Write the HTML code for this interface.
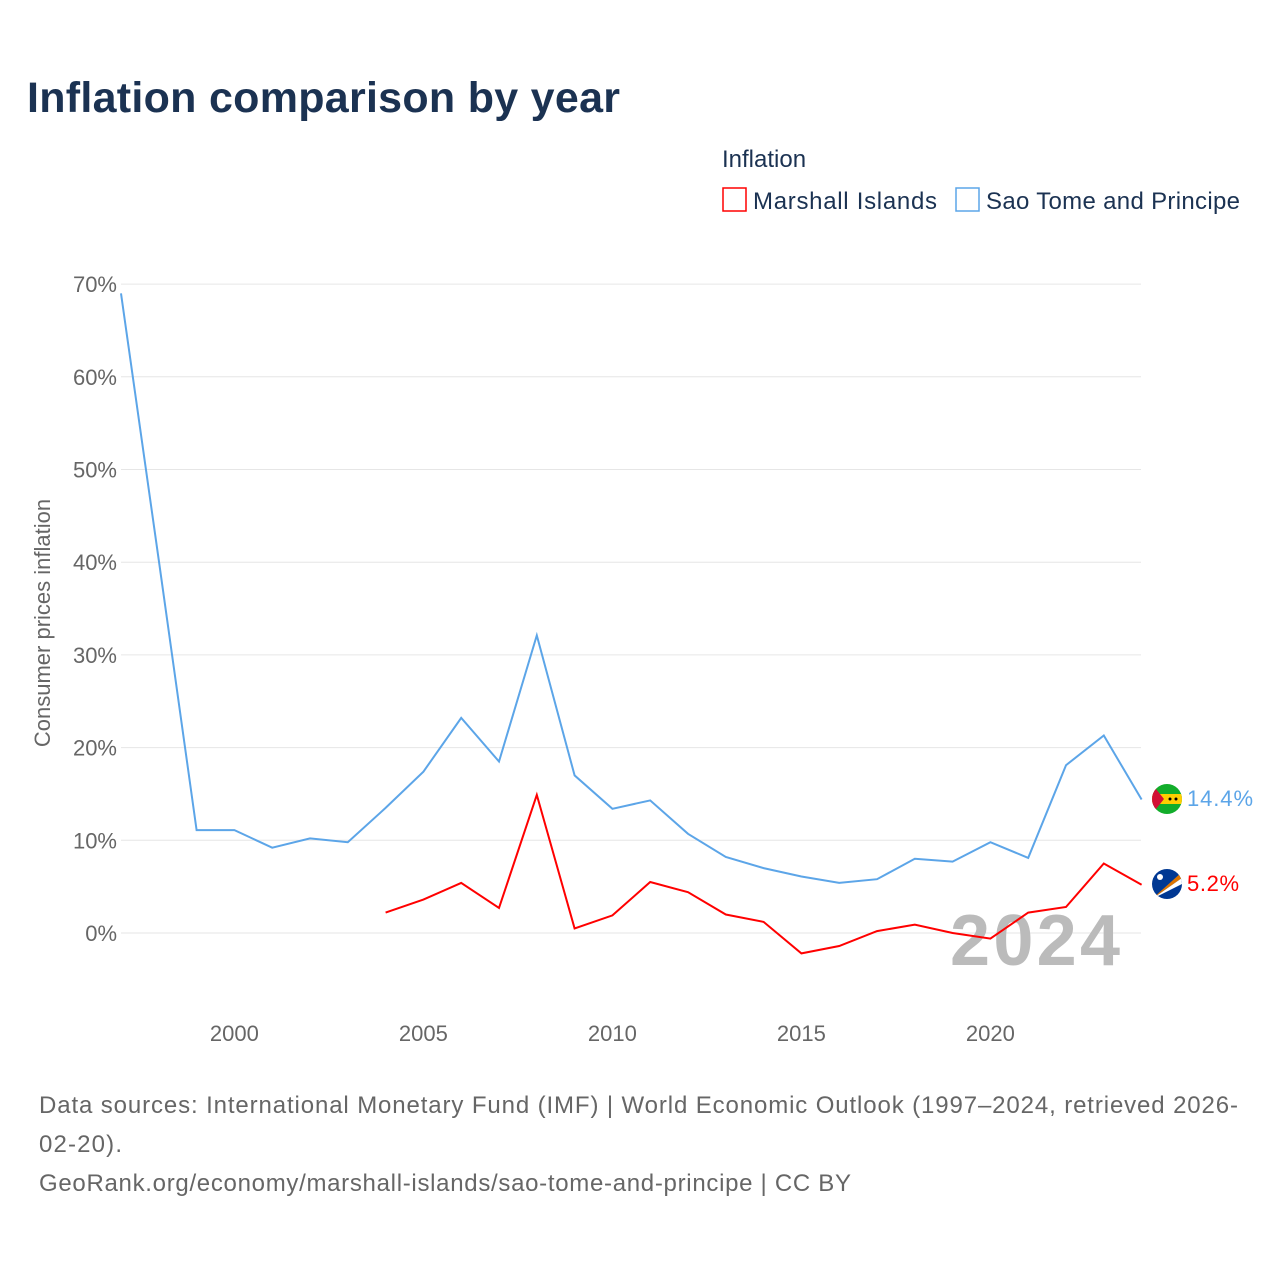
<!DOCTYPE html>
<html><head><meta charset="utf-8"><style>
body{margin:0;background:#fff;font-family:"Liberation Sans",sans-serif;}
svg text{font-family:"Liberation Sans",sans-serif;}
</style></head><body>
<svg id="chart" width="1280" height="1280" xmlns="http://www.w3.org/2000/svg">
<rect width="1280" height="1280" fill="#fff"/>
<text x="27" y="112" font-size="43" font-weight="bold" fill="#1b3252" textLength="593">Inflation comparison by year</text>
<text x="722" y="167" font-size="24" fill="#1b3252">Inflation</text>
<g><rect x="723" y="188" width="23" height="23" fill="none" stroke="#ff0000" stroke-width="1.5"/><text x="753" y="209" font-size="24" fill="#1b3252" textLength="184">Marshall Islands</text></g>
<g><rect x="956" y="188" width="23" height="23" fill="none" stroke="#5ca5e8" stroke-width="1.5"/><text x="986" y="209" font-size="24" fill="#1b3252" textLength="254">Sao Tome and Principe</text></g>
<text transform="translate(50,623) rotate(-90)" text-anchor="middle" font-size="22" fill="#666">Consumer prices inflation</text>
<g id="grid"></g><g id="xt"></g>
<text x="950" y="965" font-size="72" font-weight="bold" fill="#bbb" textLength="170">2024</text>
<g id="lines"></g>
<g><clipPath id="c1"><circle cx="1167" cy="799" r="15"/></clipPath><g clip-path="url(#c1)"><rect x="1152" y="784" width="30" height="30" fill="#12ad2b"/><rect x="1152" y="794" width="30" height="10" fill="#ffce00"/><polygon points="1152,784 1164,799 1152,814" fill="#d21034"/><circle cx="1170" cy="799" r="1.5" fill="#000"/><circle cx="1176" cy="799" r="1.5" fill="#000"/></g></g>
<g><clipPath id="c2"><circle cx="1167" cy="884" r="15"/></clipPath><g clip-path="url(#c2)"><rect x="1152" y="869" width="30" height="30" fill="#003893"/><polygon points="1152,899 1182,872 1182,878" fill="#dd7500"/><polygon points="1152,899 1182,878 1182,884" fill="#fff"/><circle cx="1160" cy="877" r="3" fill="#fff"/></g></g>
<text x="1187" y="806" font-size="22" fill="#5ca5e8" textLength="66">14.4%</text>
<text x="1187" y="891" font-size="22" fill="#ff0000" textLength="52">5.2%</text>
<text font-size="24" fill="#666"><tspan x="39" y="1113" textLength="1199">Data sources: International Monetary Fund (IMF) | World Economic Outlook (1997–2024, retrieved 2026-</tspan><tspan x="39" y="1152" textLength="83">02-20).</tspan><tspan x="39" y="1191" textLength="812">GeoRank.org/economy/marshall-islands/sao-tome-and-principe | CC BY</tspan></text>
</svg>
<script>
const years=[1997,1998,1999,2000,2001,2002,2003,2004,2005,2006,2007,2008,2009,2010,2011,2012,2013,2014,2015,2016,2017,2018,2019,2020,2021,2022,2023,2024];
const saoTome=[69.0,40.2,11.1,11.1,9.2,10.2,9.8,13.5,17.4,23.2,18.5,32.1,17.0,13.4,14.3,10.7,8.2,7.0,6.1,5.4,5.8,8.0,7.7,9.8,8.1,18.1,21.3,14.4];
const marshall=[null,null,null,null,null,null,null,2.2,3.6,5.4,2.7,14.9,0.5,1.9,5.5,4.4,2.0,1.2,-2.2,-1.4,0.2,0.9,0.0,-0.6,2.2,2.8,7.5,5.2];
const yTicks=[0,10,20,30,40,50,60,70];
const xTicks=[2000,2005,2010,2015,2020];
const NS="http://www.w3.org/2000/svg";
const X=y=>121+(y-1997)*37.8;
const Y=v=>933-v*9.27;
const grid=document.getElementById('grid');
yTicks.forEach(t=>{
 const l=document.createElementNS(NS,'line');
 l.setAttribute('x1',121);l.setAttribute('x2',1141);l.setAttribute('y1',Y(t));l.setAttribute('y2',Y(t));
 l.setAttribute('stroke','#e6e6e6');
 
 
 grid.appendChild(l);
 const tx=document.createElementNS(NS,'text');
 tx.setAttribute('x',117);tx.setAttribute('y',Y(t)+8);tx.setAttribute('text-anchor','end');
 tx.setAttribute('font-size','22');tx.setAttribute('fill','#666');tx.textContent=t+'%';
 
 
 grid.appendChild(tx);
});
const xt=document.getElementById('xt');
xTicks.forEach(t=>{
 const tx=document.createElementNS(NS,'text');
 tx.setAttribute('x',X(t));tx.setAttribute('y',1041);tx.setAttribute('text-anchor','middle');
 tx.setAttribute('font-size','22');tx.setAttribute('fill','#666');tx.textContent=t;
 
 
 xt.appendChild(tx);
});
function draw(vals,color,name){
 const pts=[];vals.forEach((v,i)=>{if(v!==null)pts.push(X(years[i]).toFixed(1)+','+Y(v).toFixed(1));});
 const p=document.createElementNS(NS,'polyline');
 p.setAttribute('points',pts.join(' '));p.setAttribute('fill','none');p.setAttribute('stroke',color);p.setAttribute('stroke-width','2');
 
 
 document.getElementById('lines').appendChild(p);
}
draw(saoTome,'#5ca5e8','sao-tome-line');
draw(marshall,'#ff0000','marshall-islands-line');
</script>
</body></html>
